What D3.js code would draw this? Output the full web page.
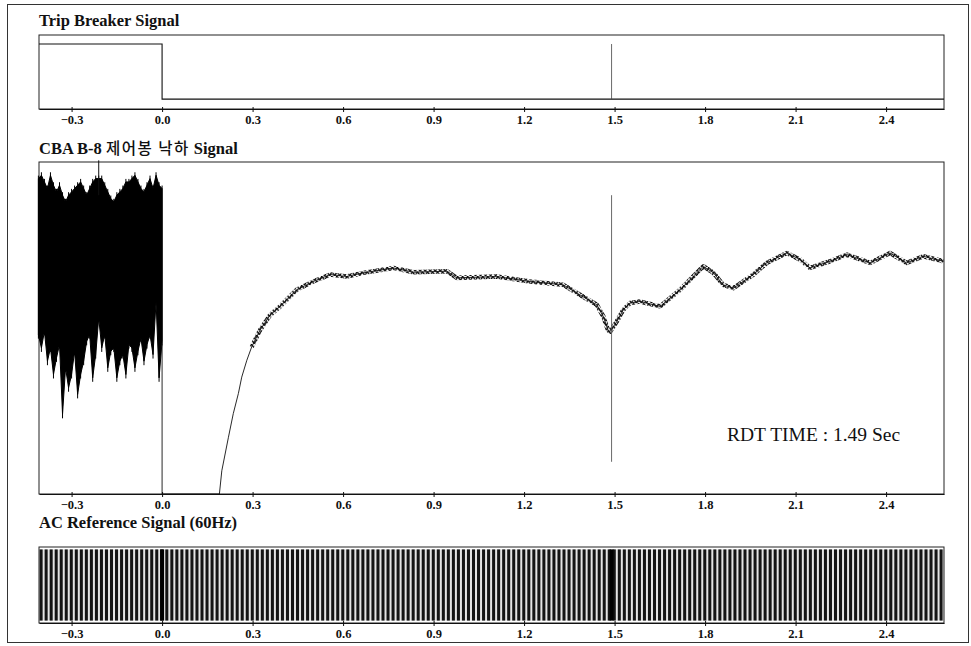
<!DOCTYPE html>
<html>
<head>
<meta charset="utf-8">
<script src="https://cdn.jsdelivr.net/npm/d3@7"></script>
<style>
  body { margin: 0; background: #fff; }
  text { font-family: "Liberation Serif", "Times New Roman", serif; fill: #111; }
</style>
</head>
<body>
<svg id="chart" width="971" height="646"></svg>
<script>
// time axis shared by the three panels (sec)
const tickTimes = [-0.3, 0.0, 0.3, 0.6, 0.9, 1.2, 1.5, 1.8, 2.1, 2.4];
const timeDomain = [-0.408, 2.592];
const rdtTime = 1.49;

// trip breaker: high before the trip, low after
const tripTime = [-0.408, 0.0, 0.0, 2.592];
const tripLevel = [1, 1, 0, 0];

// CBA B-8 rod signal before trip: noise envelope, one sample every 0.01 s from -0.41 s (% of panel)
const noiseStart = -0.41;
const noiseStep = 0.01;
const noiseTop = [95, 96, 94, 92, 96, 93, 91, 93, 90, 88, 90, 91, 92, 93, 94, 92, 90, 92, 94, 95, 95,
                  95, 93, 91, 89, 88, 90, 91, 92, 94, 94, 95, 96, 94, 92, 91, 93, 95, 92, 96, 93, 92];
const noiseBottom = [48, 44, 49, 40, 44, 36, 41, 45, 24, 38, 32, 36, 43, 30, 36, 40, 46, 48, 35, 42, 53,
                     44, 48, 38, 43, 44, 35, 40, 42, 36, 45, 44, 38, 43, 47, 40, 45, 48, 42, 58, 35, 46];
const noiseSpikeTime = [-0.21];
const noiseSpikeLevel = [100.5];

// rod signal after trip (% of panel)
const rodTime = [0.0, 0.0, 0.19, 0.198, 0.22, 0.236, 0.253, 0.264, 0.281, 0.297, 0.325, 0.358, 0.391,
                 0.446, 0.501, 0.557, 0.612, 0.667, 0.767, 0.833, 0.944, 0.977, 1.109, 1.22, 1.33, 1.385,
                 1.441, 1.463, 1.478, 1.485, 1.507, 1.529, 1.551, 1.584, 1.651, 1.717, 1.794, 1.828, 1.86,
                 1.894, 1.96, 2.004, 2.071, 2.115, 2.148, 2.214, 2.27, 2.347, 2.413, 2.468, 2.523, 2.59];
const rodLevel = [45, 0, 0, 7, 17.1, 24.2, 30.3, 35.2, 40.3, 44.3, 49.4, 53.9, 56.5,
                  61.5, 64.0, 66.1, 65.5, 66.6, 68.1, 66.8, 67.1, 65.1, 65.5, 64.0, 63.0, 60.0,
                  57.0, 53.4, 49.4, 48.9, 51.9, 55.5, 57.5, 58.0, 56.5, 61.5, 68.6, 66.6, 63.0,
                  62.0, 66.1, 69.6, 72.6, 70.6, 68.1, 70.1, 72.1, 69.6, 72.6, 69.6, 71.6, 70.1];
const rdtMarkTop = 90, rdtMarkBottom = 9.7;

// AC reference
const acHz = 60;
const acMarkTimes = [0.0, 1.49];

const svg = d3.select("#chart");
const left = 39, right = 944;

const x = d3.scaleLinear().domain(timeDomain).range([left, right]);

// outer frame
svg.append("rect")
    .attr("x", 7.5).attr("y", 4.5).attr("width", 961).attr("height", 638)
    .attr("fill", "none").attr("stroke", "#333").attr("stroke-width", 1);

// 60 Hz ripple look on the rod trace (zigzag texture, one tooth per AC period)
const period = x(1 / acHz) - x(0);
svg.append("defs").append("pattern")
    .attr("id", "ripple").attr("patternUnits", "userSpaceOnUse")
    .attr("width", period).attr("height", period * 0.9)
    .append("path")
    .attr("d", `M0,0L${period * 0.6},${period * 0.9}L${period},0`)
    .attr("fill", "none").attr("stroke", "#000").attr("stroke-width", 1.3);

function panel(top, bottom, title, titleY) {
  const g = svg.append("g");
  g.append("rect")
      .attr("x", left).attr("y", top).attr("width", right - left).attr("height", bottom - top)
      .attr("fill", "none").attr("stroke", "#222").attr("stroke-width", 1);
  const axis = g.append("g")
      .attr("transform", `translate(0,${bottom})`)
      .call(d3.axisBottom(x).tickValues(tickTimes).tickFormat(d3.format(".1f")).tickSize(3).tickSizeOuter(0));
  axis.select(".domain").attr("stroke", "#111");
  axis.selectAll(".tick line").attr("y1", -2).attr("stroke", "#111");
  axis.selectAll(".tick text")
      .attr("y", 15).attr("dy", 0)
      .attr("font-family", "Liberation Serif").attr("font-weight", "bold").attr("font-size", 12.5)
      .attr("fill", "#111");
  const t = g.append("text").attr("x", left).attr("y", titleY)
      .attr("font-size", 16.5).attr("font-weight", "bold");
  if (typeof title === "string") t.text(title);
  else title(t);
  return g;
}

// ---- Trip Breaker Signal
const g1 = panel(35, 109, "Trip Breaker Signal", 26);
const yTrip = d3.scaleLinear().domain([-0.18, 1.164]).range([109, 35]);
g1.append("path")
    .datum(d3.range(tripTime.length))
    .attr("fill", "none").attr("stroke", "#111").attr("stroke-width", 1.1)
    .attr("d", d3.line().x(i => x(tripTime[i])).y(i => yTrip(tripLevel[i])));
g1.append("line")
    .attr("x1", x(rdtTime)).attr("x2", x(rdtTime))
    .attr("y1", yTrip(1)).attr("y2", yTrip(0))
    .attr("stroke", "#444").attr("stroke-width", 0.8);

// ---- CBA B-8 rod drop signal
const g2 = panel(162, 494, t => {
  t.append("tspan").text("CBA B-8 ");
  t.append("tspan").attr("font-family", "Noto Sans CJK KR").attr("font-weight", 500)
      .attr("font-size", 15.5).attr("letter-spacing", 1.5).text("제어봉 낙하");
  t.append("tspan").text(" Signal");
}, 154);
const yRod = d3.scaleLinear().domain([0, 100]).range([494, 162]);

const idx = d3.range(noiseTop.length);
const nt = i => noiseStart + i * noiseStep;
g2.append("path")
    .datum(idx)
    .attr("fill", "#000").attr("stroke", "#000").attr("stroke-width", 1)
    .attr("d", d3.area().x(i => x(nt(i))).y0(i => yRod(noiseBottom[i])).y1(i => yRod(noiseTop[i])));
g2.selectAll(".hatch")
    .data(idx)
    .join("line")
    .attr("x1", i => x(nt(i))).attr("x2", i => x(nt(i)))
    .attr("y1", i => yRod(noiseTop[i]) - 3).attr("y2", i => yRod(noiseBottom[i]) + 4)
    .attr("stroke", "#000").attr("stroke-width", 1);
g2.selectAll(".spike")
    .data(noiseSpikeTime)
    .join("line")
    .attr("x1", d => x(d)).attr("x2", d => x(d))
    .attr("y1", (d, i) => yRod(noiseSpikeLevel[i])).attr("y2", yRod(90))
    .attr("stroke", "#111").attr("stroke-width", 1);

const rodLine = d3.line().x(i => x(rodTime[i])).y(i => yRod(rodLevel[i]));
const ridx = d3.range(rodTime.length);
g2.append("path")
    .datum(ridx.filter(i => rodTime[i] >= 0.29))
    .attr("fill", "none").attr("stroke", "url(#ripple)").attr("stroke-width", period * 0.9)
    .attr("stroke-linejoin", "round")
    .attr("d", rodLine);
g2.append("path")
    .datum(ridx)
    .attr("fill", "none").attr("stroke", "#111").attr("stroke-width", 0.9)
    .attr("d", rodLine);

g2.append("line")
    .attr("x1", x(rdtTime)).attr("x2", x(rdtTime))
    .attr("y1", yRod(rdtMarkTop)).attr("y2", yRod(rdtMarkBottom))
    .attr("stroke", "#444").attr("stroke-width", 0.8);

g2.append("text")
    .attr("x", 727).attr("y", 441)
    .attr("font-size", 19.5)
    .text("RDT TIME : 1.49 Sec");

// ---- AC Reference Signal (60Hz)
const g3 = panel(547, 623, "AC Reference Signal (60Hz)", 528);
const yAC = d3.scaleLinear().domain([-1.1, 1.1]).range([623, 547]);
g3.insert("rect", ":first-child")
    .attr("x", left).attr("y", yAC(1.03)).attr("width", right - left).attr("height", yAC(-1.03) - yAC(1.03))
    .attr("fill", "#e4e4e4");
const cycles = d3.range(timeDomain[0] + 0.002, timeDomain[1] - 0.006, 1 / acHz);
g3.selectAll(".cycle")
    .data(cycles)
    .join("rect")
    .attr("x", d => x(d))
    .attr("width", d => x(d + 0.6 / acHz) - x(d))
    .attr("y", yAC(1.03)).attr("height", yAC(-1.03) - yAC(1.03))
    .attr("fill", "#141414");
g3.selectAll(".acmark")
    .data(acMarkTimes)
    .join("rect")
    .attr("x", d => x(d) - 2).attr("width", 4)
    .attr("y", yAC(1.03)).attr("height", yAC(-1.03) - yAC(1.03))
    .attr("fill", "#000");
</script>
</body>
</html>
